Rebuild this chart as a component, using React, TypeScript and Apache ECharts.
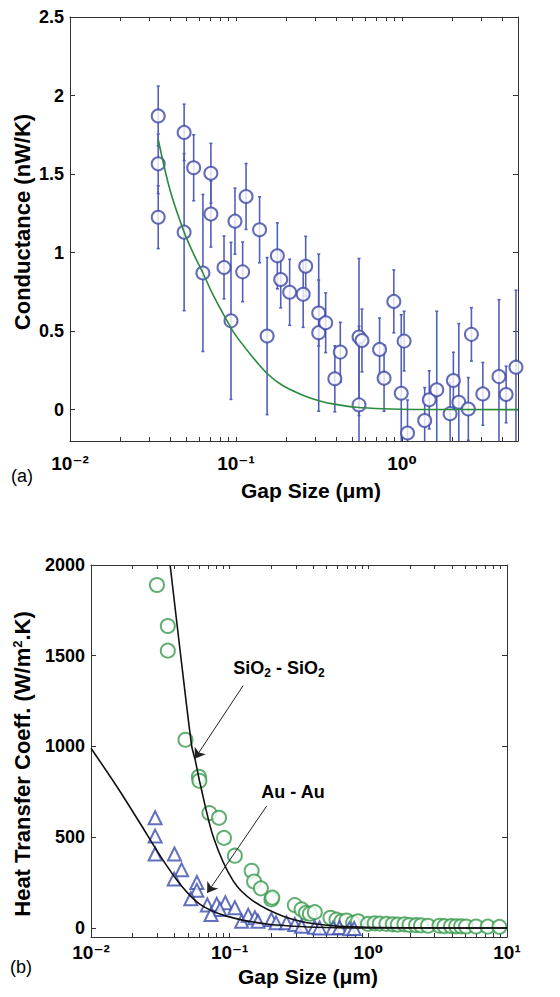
import React, { useEffect, useRef } from "react";
import * as echarts from "echarts";

// ---------- Panel (a): conductance vs gap ----------
const gapA = [0.034, 0.034, 0.034, 0.0487, 0.0487, 0.0556, 0.0632, 0.0706, 0.0706, 0.0847, 0.0933, 0.0986, 0.1097, 0.115, 0.1387, 0.154, 0.1775, 0.186, 0.2105, 0.254, 0.263, 0.315, 0.315, 0.347, 0.394, 0.425, 0.551, 0.551, 0.574, 0.733, 0.78, 0.893, 0.99, 1.03, 1.08, 1.37, 1.46, 1.62, 1.95, 2.04, 2.2, 2.51, 2.62, 3.07, 3.84, 4.24, 4.86];
const condA = [1.87, 1.565, 1.225, 1.765, 1.13, 1.54, 0.87, 1.505, 1.245, 0.905, 0.565, 1.2, 0.877, 1.357, 1.145, 0.468, 0.979, 0.828, 0.747, 0.734, 0.913, 0.615, 0.49, 0.553, 0.196, 0.366, 0.462, 0.03, 0.44, 0.383, 0.2, 0.689, 0.104, 0.436, -0.149, -0.07, 0.062, 0.126, -0.026, 0.185, 0.047, 0.004, 0.479, 0.1, 0.21, 0.096, 0.27];
const errA = [0.19, 0.19, 0.2, 0.18, 0.5, 0.21, 0.5, 0.19, 0.21, 0.2, 0.5, 0.21, 0.19, 0.21, 0.21, 0.5, 0.21, 0.18, 0.21, 0.21, 0.19, 0.21, 0.5, 0.19, 0.21, 0.19, 0.5, 0.5, 0.2, 0.2, 0.21, 0.2, 0.5, 0.19, 0.21, 0.21, 0.185, 0.5, 0.2, 0.18, 0.5, 0.2, 0.17, 0.2, 0.49, 0.18, 0.49];
const fitAx = [0.034, 0.04, 0.0487, 0.0556, 0.0632, 0.072, 0.0847, 0.097, 0.1247, 0.154, 0.19, 0.255, 0.32, 0.39, 0.53, 0.78, 1.2, 5];
const fitAy = [1.72, 1.4, 1.13, 0.99, 0.87, 0.74, 0.6, 0.49, 0.34, 0.23, 0.155, 0.09, 0.055, 0.035, 0.015, 0.005, 0.001, 0];
const yTicksA = [0, 0.5, 1, 1.5, 2, 2.5];
const xLabelsA = [0.01, 0.1, 1];

// ---------- Panel (b): heat transfer coefficient ----------
const sio2X = [0.0299, 0.0358, 0.0358, 0.048, 0.06, 0.0605, 0.0714, 0.0838, 0.091, 0.109, 0.144, 0.15, 0.168, 0.2, 0.203, 0.295, 0.33, 0.355, 0.379, 0.411, 0.533, 0.589, 0.64, 0.695, 0.776, 0.843, 0.995, 1.11, 1.21, 1.35, 1.5, 1.63, 1.82, 1.98, 2.21, 2.4, 2.69, 3.26, 3.54, 3.95, 4.3, 4.67, 5.07, 5.98, 7.26, 8.81];
const sio2Y = [1890, 1664, 1528, 1037, 833, 811, 633, 607, 496, 398, 315, 256, 218, 157, 167, 126, 102, 83, 78, 87, 56, 46, 37, 41, 28, 37, 22, 25, 24, 22, 20, 18, 20, 16, 15, 14, 12, 12, 10, 10, 9, 9, 8, 8, 7, 6];
const auX = [0.029, 0.029, 0.029, 0.04, 0.045, 0.0398, 0.058, 0.058, 0.0525, 0.069, 0.0807, 0.093, 0.085, 0.0734, 0.109, 0.122, 0.136, 0.152, 0.16, 0.2, 0.216, 0.257, 0.295, 0.33, 0.41, 0.445, 0.557, 0.62, 0.73, 0.79];
const auY = [607, 506, 407, 407, 320, 269, 250, 207, 161, 126, 130, 139, 102, 74, 111, 37, 70, 56, 37, 46, 28, 28, 19, 9, 4, 0, 0, 2, -4, -3];
const sio2FitX = [0.0372, 0.045, 0.0533, 0.0564, 0.0612, 0.0764, 0.106, 0.148, 0.243, 0.42, 0.97, 10];
const sio2FitY = [2000, 1460, 1000, 926, 796, 500, 259, 148, 65, 22, 4, 0];
const auFitX = [0.01, 0.0154, 0.0227, 0.0315, 0.0439, 0.0612, 0.095, 0.185, 0.42, 1, 10];
const auFitY = [990, 778, 574, 398, 241, 130, 65, 22, 4, 0, 0];
const yTicksB = [0, 500, 1000, 1500, 2000];
const xLabelsB = [0.01, 0.1, 1, 10];
// annotation arrows: [startX, startY, endX, endY]
const arrowSiO2 = [0.125, 1335, 0.056, 932];
const arrowAu = [0.185, 672, 0.0688, 192];

const FONT = '"Liberation Sans", Arial, "DejaVu Sans", sans-serif';

const SUP: Record<string, string> = { "-": "\u207B", "0": "\u2070", "1": "\u00B9", "2": "\u00B2", "3": "\u00B3" };
function expLabel(v: number): string {
  const e = String(Math.round(Math.log10(v)));
  return "10" + e.split("").map((c) => SUP[c] || c).join("");
}

function minorTicks(lo: number, hi: number): number[] {
  const out: number[] = [];
  for (let d = Math.floor(Math.log10(lo)); d <= Math.ceil(Math.log10(hi)); d++) {
    for (let k = 1; k <= 9; k++) {
      const v = k * Math.pow(10, d);
      if (v >= lo * 0.999 && v <= hi * 1.001) out.push(v);
    }
  }
  return out;
}

function xAxes(gridIndex: number, min: number, max: number, labels: number[], margin: number) {
  const minors = minorTicks(min, max);
  const base = {
    type: "log",
    gridIndex,
    min,
    max,
    logBase: 10,
    axisLine: { show: true, onZero: false, lineStyle: { color: "#333", width: 1 } },
    splitLine: { show: false },
    minorTick: { show: false },
  };
  return [
    {
      ...base,
      position: "bottom",
      axisTick: { show: true, inside: true, length: 4, customValues: minors, lineStyle: { color: "#333" } },
      axisLabel: {
        show: true,
        customValues: labels,
        margin,
        fontSize: 19,
        fontWeight: "bold",
        fontFamily: FONT,
        color: "#000",
        formatter: (v: number) => expLabel(v),
      },
    },
    {
      ...base,
      position: "top",
      axisTick: { show: true, inside: true, length: 4, customValues: minors, lineStyle: { color: "#333" } },
      axisLabel: { show: false },
    },
  ];
}

function yAxes(gridIndex: number, min: number, max: number, ticks: number[]) {
  const base = {
    type: "value",
    gridIndex,
    min,
    max,
    axisLine: { show: true, onZero: false, lineStyle: { color: "#333", width: 1 } },
    splitLine: { show: false },
  };
  return [
    {
      ...base,
      position: "left",
      axisTick: { show: true, inside: true, length: 5, customValues: ticks, lineStyle: { color: "#333" } },
      axisLabel: {
        show: true,
        customValues: ticks,
        margin: 6,
        fontSize: 18,
        fontWeight: "bold",
        fontFamily: FONT,
        color: "#000",
        formatter: (v: number) => String(v),
      },
    },
    {
      ...base,
      position: "right",
      axisTick: { show: true, inside: true, length: 5, customValues: ticks, lineStyle: { color: "#333" } },
      axisLabel: { show: false },
    },
  ];
}

export default function App() {
  const ref = useRef<HTMLDivElement>(null);
  useEffect(() => {
    if (!ref.current) return;
    const chart = echarts.init(ref.current, undefined, { renderer: "svg" });
    const errData = gapA.map((g, i) => [g, condA[i], errA[i]]);
    const option: any = {
      animation: false,
      backgroundColor: "#fff",
      grid: [
        { left: 70, top: 17, width: 448, height: 424 },
        { left: 91, top: 565, width: 416, height: 372 },
      ],
      xAxis: [...xAxes(0, 0.01, 5, xLabelsA, 13), ...xAxes(1, 0.01, 10, xLabelsB, 6)],
      yAxis: [...yAxes(0, -0.2, 2.5, yTicksA), ...yAxes(1, -50, 2000, yTicksB)],
      series: [
        {
          type: "custom",
          xAxisIndex: 0,
          yAxisIndex: 0,
          data: errData,
          z: 2,
          renderItem: (params: any, api: any) => {
            const x = api.value(0), y = api.value(1), e = api.value(2);
            const cs = params.coordSys;
            const p1 = api.coord([x, y + e]);
            const p2 = api.coord([x, y - e]);
            const clamp = (v: number) => Math.max(cs.y, Math.min(cs.y + cs.height, v));
            const yt = clamp(p1[1]), yb = clamp(p2[1]);
            const st = { stroke: "#5260bd", lineWidth: 1.6 };
            const children: any[] = [
              { type: "line", shape: { x1: p1[0], y1: yt, x2: p1[0], y2: yb }, style: st },
            ];
            if (p1[1] >= cs.y) children.push({ type: "line", shape: { x1: p1[0] - 1.5, y1: p1[1], x2: p1[0] + 1.5, y2: p1[1] }, style: st });
            if (p2[1] <= cs.y + cs.height) children.push({ type: "line", shape: { x1: p2[0] - 1.5, y1: p2[1], x2: p2[0] + 1.5, y2: p2[1] }, style: st });
            return { type: "group", children };
          },
        },
        {
          type: "scatter",
          xAxisIndex: 0,
          yAxisIndex: 0,
          data: gapA.map((g, i) => [g, condA[i]]),
          symbol: "emptyCircle",
          symbolSize: 13,
          itemStyle: { color: "#3d47a6", borderWidth: 1.6 },
          z: 3,
        },
        {
          type: "line",
          xAxisIndex: 0,
          yAxisIndex: 0,
          data: fitAx.map((g, i) => [g, fitAy[i]]),
          smooth: 0.3,
          showSymbol: false,
          symbol: "none",
          lineStyle: { color: "#2b8a3e", width: 1.6 },
          z: 4,
        },
        {
          type: "scatter",
          xAxisIndex: 2,
          yAxisIndex: 2,
          data: sio2X.map((g, i) => [g, sio2Y[i]]),
          symbol: "emptyCircle",
          symbolSize: 14,
          itemStyle: { color: "#3a9a4e", borderWidth: 1.6 },
          z: 3,
        },
        {
          type: "scatter",
          xAxisIndex: 2,
          yAxisIndex: 2,
          data: auX.map((g, i) => [g, auY[i]]),
          symbol: "emptyTriangle",
          symbolSize: 13,
          itemStyle: { color: "#3c4cae", borderWidth: 1.5 },
          z: 3,
        },
        {
          type: "line",
          xAxisIndex: 2,
          yAxisIndex: 2,
          data: sio2FitX.map((g, i) => [g, sio2FitY[i]]),
          smooth: 0.3,
          showSymbol: false,
          symbol: "none",
          lineStyle: { color: "#111", width: 1.6 },
          z: 4,
          markLine: {
            silent: true,
            symbol: ["none", "arrow"],
            symbolSize: 10,
            label: { show: false },
            lineStyle: { color: "#222", width: 1, type: "solid" },
            data: [
              [{ coord: [arrowSiO2[0], arrowSiO2[1]] }, { coord: [arrowSiO2[2], arrowSiO2[3]] }],
              [{ coord: [arrowAu[0], arrowAu[1]] }, { coord: [arrowAu[2], arrowAu[3]] }],
            ],
          },
        },
        {
          type: "line",
          xAxisIndex: 2,
          yAxisIndex: 2,
          data: auFitX.map((g, i) => [g, auFitY[i]]),
          smooth: 0.3,
          showSymbol: false,
          symbol: "none",
          lineStyle: { color: "#111", width: 1.6 },
          z: 4,
        },
      ],
      graphic: [
        {
          type: "text",
          x: 22,
          y: 222,
          rotation: Math.PI / 2,
          style: {
            text: "Conductance (nW/K)",
            font: `bold 22px ${FONT}`,
            fill: "#000",
            align: "center",
            verticalAlign: "middle",
          },
        },
        {
          type: "text",
          x: 311,
          y: 490,
          style: { text: "Gap Size (μm)", font: `bold 21px ${FONT}`, fill: "#000", align: "center", verticalAlign: "middle" },
        },
        {
          type: "text",
          x: 22,
          y: 476,
          style: { text: "(a)", font: `18px ${FONT}`, fill: "#000", align: "center", verticalAlign: "middle" },
        },
        {
          type: "text",
          x: 22,
          y: 764,
          rotation: Math.PI / 2,
          style: {
            text: "{t|Heat Transfer Coeff. (W/m}{s|2}{t|.K)}",
            align: "center",
            verticalAlign: "middle",
            rich: {
              t: { font: `bold 22px ${FONT}`, fill: "#000" },
              s: { font: `bold 13px ${FONT}`, fill: "#000", padding: [0, 0, 10, 0] },
            },
          },
        },
        {
          type: "text",
          x: 308,
          y: 976,
          style: { text: "Gap Size (μm)", font: `bold 21px ${FONT}`, fill: "#000", align: "center", verticalAlign: "middle" },
        },
        {
          type: "text",
          x: 21,
          y: 967,
          style: { text: "(b)", font: `18px ${FONT}`, fill: "#000", align: "center", verticalAlign: "middle" },
        },
        {
          type: "text",
          x: 279,
          y: 668,
          style: {
            text: "{t|SiO}{s|2}{t| - SiO}{s|2}",
            align: "center",
            verticalAlign: "middle",
            rich: {
              t: { font: `bold 18px ${FONT}`, fill: "#000" },
              s: { font: `bold 12px ${FONT}`, fill: "#000", padding: [9, 0, 0, 0] },
            },
          },
        },
        {
          type: "text",
          x: 293,
          y: 792,
          style: { text: "Au - Au", font: `bold 18px ${FONT}`, fill: "#000", align: "center", verticalAlign: "middle" },
        },
      ],
    };
    chart.setOption(option);
    return () => chart.dispose();
  }, []);
  return <div ref={ref} style={{ position: "fixed", left: 0, top: 0, width: 560, height: 997, background: "#fff" }} />;
}
